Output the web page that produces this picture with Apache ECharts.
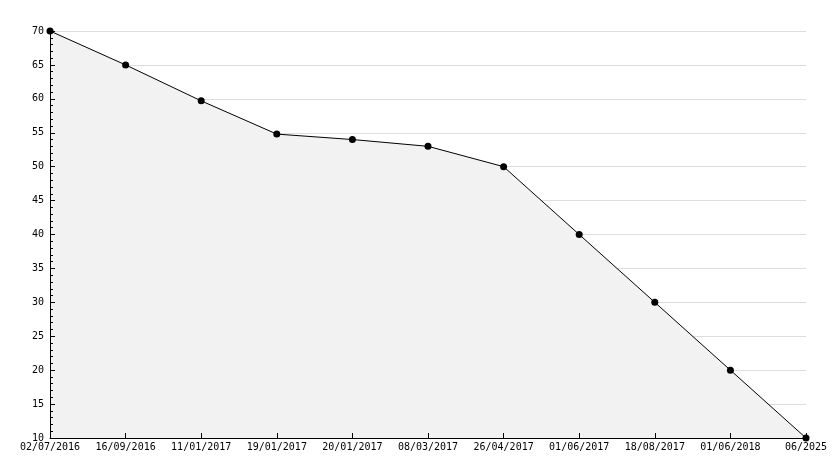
<!DOCTYPE html>
<html>
<head>
<meta charset="utf-8">
<script src="https://cdn.jsdelivr.net/npm/echarts@6/dist/echarts.min.js"></script>
<style>html,body{margin:0;padding:0;background:#fff;}#c{width:834px;height:468px;}</style>
</head>
<body>
<div id="c"></div>
<script>
var categories = ['02/07/2016','16/09/2016','11/01/2017','19/01/2017','20/01/2017','08/03/2017','26/04/2017','01/06/2017','18/08/2017','01/06/2018','06/2025'];
var values = [70, 65, 59.7, 54.8, 54, 53, 50, 40, 30, 20, 10];
var yMin = 10, yMax = 70, yStep = 5;

var font = '"DejaVu Sans Mono", monospace';
var chart = echarts.init(document.getElementById('c'), null, {renderer: 'canvas'});
chart.setOption({
  animation: false,
  backgroundColor: '#ffffff',
  grid: {left: 50, right: 28, top: 31, bottom: 30, containLabel: false},
  xAxis: {
    type: 'category',
    data: categories,
    boundaryGap: false,
    z: 10,
    axisLine: {show: true, lineStyle: {color: '#000', width: 1}},
    axisTick: {show: true, inside: true, length: 5, lineStyle: {color: '#000'}},
    axisLabel: {color: '#000', fontFamily: font, fontSize: 10, margin: 4, interval: 0, showMinLabel: true, showMaxLabel: true},
    splitLine: {show: false}
  },
  yAxis: [{
    type: 'value',
    min: yMin, max: yMax, interval: yStep,
    z: 10,
    axisLine: {show: true, lineStyle: {color: '#000', width: 1}},
    axisTick: {show: true, inside: true, length: 5, lineStyle: {color: '#000'}},
    minorTick: {show: true, splitNumber: 5, length: 3, lineStyle: {color: '#000'}},
    axisLabel: {color: '#000', fontFamily: font, fontSize: 10, margin: 6},
    splitLine: {show: false}
  }, {
    type: 'value',
    position: 'left',
    min: yMin, max: yMax, interval: yStep,
    z: 0,
    axisLine: {show: false},
    axisTick: {show: false},
    axisLabel: {show: false},
    splitLine: {show: true, lineStyle: {color: '#dddddd', width: 1}}
  }],
  series: [{
    type: 'line',
    data: values,
    yAxisIndex: 0,
    z: 2,
    symbol: 'circle',
    symbolSize: 7,
    showAllSymbol: true,
    itemStyle: {color: '#000'},
    lineStyle: {color: '#000', width: 1},
    areaStyle: {color: '#f2f2f2', opacity: 1}
  }]
});
</script>
</body>
</html>
